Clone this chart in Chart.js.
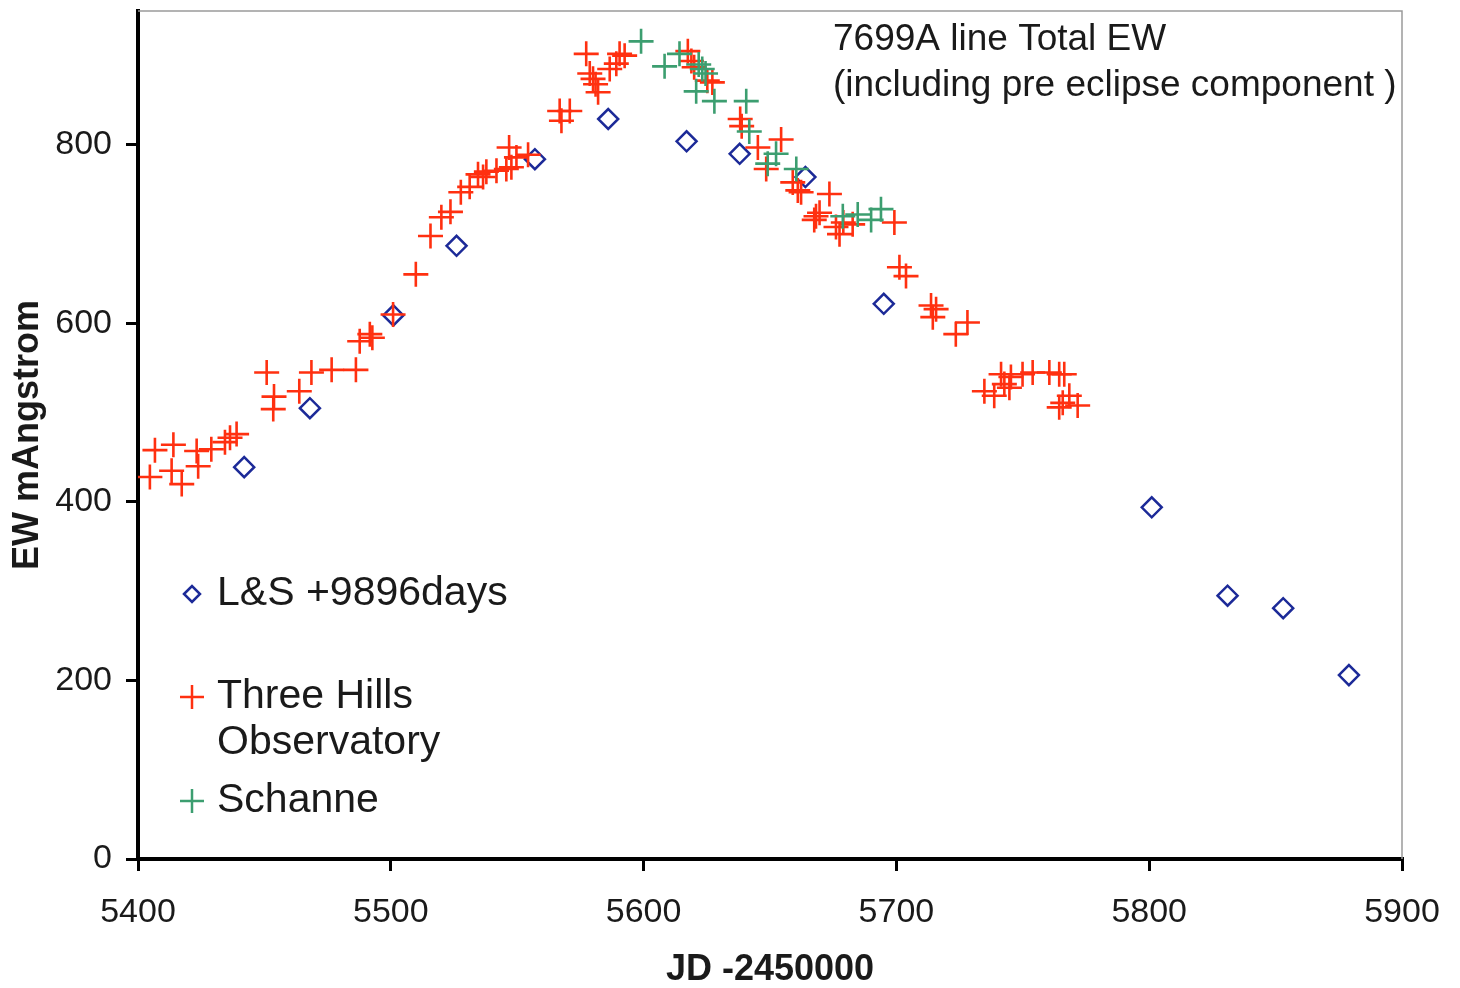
<!DOCTYPE html>
<html>
<head>
<meta charset="utf-8">
<script src="https://cdn.jsdelivr.net/npm/chart.js@4/dist/chart.umd.min.js"></script>
<style>
  html, body { margin: 0; padding: 0; background: #fff; }
  canvas { display: block; }
</style>
</head>
<body>
<canvas id="ewChart" width="1460" height="988"></canvas>
<script>
/* ─────────────────────────────────────────
   7699A line Total EW — scatter
   ───────────────────────────────────────── */

// ─── Data ───────────────────────────────
// L&S +9896days
const lsX = [5442, 5468, 5501, 5526, 5557, 5586, 5617, 5638, 5664, 5695, 5801, 5831, 5853, 5879];
const lsY = [439, 505, 609, 687, 784, 829, 804, 790, 764, 622, 394, 295, 281, 206];

// Three Hills Observatory
const thX = [5404.7, 5406.7, 5413.3, 5414, 5417.3, 5423.2, 5423.8, 5429, 5434.4, 5436.4, 5439,
             5450.9, 5453.8, 5453.5, 5463.8, 5468.6, 5476.6, 5486.2, 5487.7, 5491.7, 5492.7, 5500.9,
             5509.9, 5515.7, 5520, 5523.6, 5527.7, 5531.2, 5534.5, 5536.5, 5537.8, 5541.8, 5545.7,
             5547.7, 5546.8, 5549.7, 5554.3, 5566.8, 5570.8, 5567.5, 5577.3, 5578.7, 5580, 5582,
             5581, 5586.6, 5589.2, 5590.5, 5592.5, 5617.5, 5618.9, 5620, 5625.2, 5627.2, 5638.2,
             5638.8, 5645.2, 5654.4, 5648.5, 5659, 5661, 5662.3, 5673.5, 5668.2, 5669.6, 5667.5,
             5676.1, 5677.5, 5679, 5682.7, 5699.2, 5701.2, 5703.8, 5713.7, 5715.7, 5714.4, 5723.5,
             5728.1, 5734.8, 5738.7, 5741.4, 5742.7, 5744.7, 5745.3, 5749.9, 5753.9, 5760.5, 5764.4,
             5766.4, 5765.8, 5764.4, 5768.4, 5771.7];
const thY = [428, 458, 435, 464, 420, 457, 440, 459, 467, 472, 476,
             545, 518, 504, 524, 545, 548, 548, 580, 588, 584, 610,
             655, 698, 719, 725, 747, 753, 767, 764, 770, 771, 773,
             775, 797, 786, 789, 838, 838, 827, 902, 880, 874, 859,
             868, 885, 891, 902, 900, 905, 894, 887, 872, 870, 829,
             821, 797, 806, 773, 758, 749, 747, 745, 720, 724, 716,
             708, 700, 713, 711, 713, 663, 653, 620, 616, 607, 588,
             601, 524, 519, 543, 532, 528, 540, 543, 545, 545, 543,
             543, 511, 506, 519, 508];

// Schanne
const scX = [5599, 5608.3, 5614.2, 5621.8, 5623.2, 5624.5, 5620.8, 5628, 5640.6, 5641.8,
             5649.1, 5652.4, 5660.4, 5678.8, 5684.7, 5690, 5693.9];
const scY = [916, 888, 902, 890, 885, 880, 860, 849, 849, 815,
             779, 790, 773, 720, 722, 716, 728];

// Axes
const xTickValues = [5400, 5500, 5600, 5700, 5800, 5900];
const yTickValues = [0, 200, 400, 600, 800];

const seriesNames = ["L&S +9896days", "Three Hills\nObservatory", "Schanne"];
const noteLines = ["7699A line Total EW", "(including pre eclipse component )"];

// ─── Styles ─────────────────────────────
const FONT = "'Liberation Sans', Arial, Helvetica, sans-serif";
const BLUE = "#1c2a98";
const RED = "#ff3010";
const GREEN = "#3c9e70";

const toPoints = (xs, ys) => xs.map((x, i) => ({ x, y: ys[i] }));

// ─── Plugins ────────────────────────────
const frameBox = {
  id: "frameBox",
  beforeDatasetsDraw(chart) {
    const { ctx, chartArea: a } = chart;
    ctx.save();
    ctx.strokeStyle = "#9a9a9a";
    ctx.lineWidth = 1.5;
    ctx.beginPath();
    ctx.moveTo(a.left, a.top);
    ctx.lineTo(a.right, a.top);
    ctx.lineTo(a.right, a.bottom);
    ctx.stroke();
    ctx.restore();
  },
};

const sideLegend = {
  id: "sideLegend",
  afterDraw(chart) {
    const { ctx, chartArea: a } = chart;
    const mx = a.left + 54;
    const tx = a.left + 79;
    const entries = [
      { y: a.top + 583, style: "rectRot", radius: 8, color: BLUE, text: seriesNames[0] },
      { y: a.top + 686, style: "cross", radius: 12, color: RED, text: seriesNames[1] },
      { y: a.top + 790, style: "cross", radius: 12, color: GREEN, text: seriesNames[2] },
    ];
    ctx.save();
    ctx.textBaseline = "middle";
    ctx.textAlign = "left";
    entries.forEach(e => {
      ctx.strokeStyle = e.color;
      ctx.fillStyle = "rgba(0,0,0,0)";
      ctx.lineWidth = 2.5;
      Chart.helpers.drawPoint(ctx, { pointStyle: e.style, radius: e.radius, rotation: 0, borderWidth: 2.5 }, mx, e.y);
      ctx.fillStyle = "#1a1a1a";
      ctx.font = `41px ${FONT}`;
      e.text.split("\n").forEach((line, i) => ctx.fillText(line, tx, e.y + i * 46));
    });

    // note in the top right corner
    ctx.font = `37px ${FONT}`;
    noteLines.forEach((line, i) => ctx.fillText(line, a.left + 695, a.top + 29 + i * 46));
    ctx.restore();
  },
};

// ─── Chart ──────────────────────────────
const ctx = document.getElementById("ewChart").getContext("2d");

new Chart(ctx, {
  type: "scatter",
  data: {
    datasets: [
      {
        label: seriesNames[2],
        data: toPoints(scX, scY),
        pointStyle: "cross",
        pointRadius: 12.5,
        borderColor: GREEN,
        borderWidth: 2.6,
        order: 0,
      },
      {
        label: seriesNames[1],
        data: toPoints(thX, thY),
        pointStyle: "cross",
        pointRadius: 12.5,
        borderColor: RED,
        borderWidth: 2.6,
        order: 1,
      },
      {
        label: seriesNames[0],
        data: toPoints(lsX, lsY),
        pointStyle: "rectRot",
        pointRadius: 10,
        borderColor: BLUE,
        backgroundColor: "rgba(0,0,0,0)",
        borderWidth: 2.5,
        order: 2,
      },
    ],
  },
  options: {
    responsive: false,
    animation: false,
    events: [],
    layout: { autoPadding: false, padding: { top: 11, right: 58, left: 0, bottom: 0 } },
    plugins: {
      legend: { display: false },
      tooltip: { enabled: false },
    },
    scales: {
      x: {
        type: "linear",
        min: 5400,
        max: 5900,
        afterBuildTicks: s => { s.ticks = xTickValues.map(v => ({ value: v })); },
        afterFit: s => { s.height = 129; s.paddingLeft = 0; s.paddingRight = 0; },
        ticks: {
          color: "#1a1a1a",
          font: { family: FONT, size: 34 },
          padding: 21,
          maxRotation: 0,
          callback: v => String(v),
        },
        grid: { drawOnChartArea: false, color: "#000", lineWidth: 3, tickLength: 12 },
        border: { color: "#000", width: 4 },
        title: {
          display: true,
          text: "JD -2450000",
          color: "#1a1a1a",
          font: { family: FONT, size: 36, weight: "bold", lineHeight: 1.0 },
          padding: { top: 0, bottom: 0 },
        },
      },
      y: {
        min: 0,
        max: 950,
        afterBuildTicks: s => { s.ticks = yTickValues.map(v => ({ value: v })); },
        afterFit: s => { s.width = 138; s.paddingTop = 0; s.paddingBottom = 0; },
        ticks: {
          color: "#1a1a1a",
          font: { family: FONT, size: 34 },
          padding: 14,
          callback: v => String(v),
        },
        grid: { drawOnChartArea: false, color: "#000", lineWidth: 3, tickLength: 12 },
        border: { color: "#000", width: 4 },
        title: {
          display: true,
          text: "EW mAngstrom",
          color: "#1a1a1a",
          font: { family: FONT, size: 36, weight: "bold", lineHeight: 1.2 },
          padding: { top: 6, bottom: 0 },
        },
      },
    },
  },
  plugins: [frameBox, sideLegend],
});
</script>
</body>
</html>
